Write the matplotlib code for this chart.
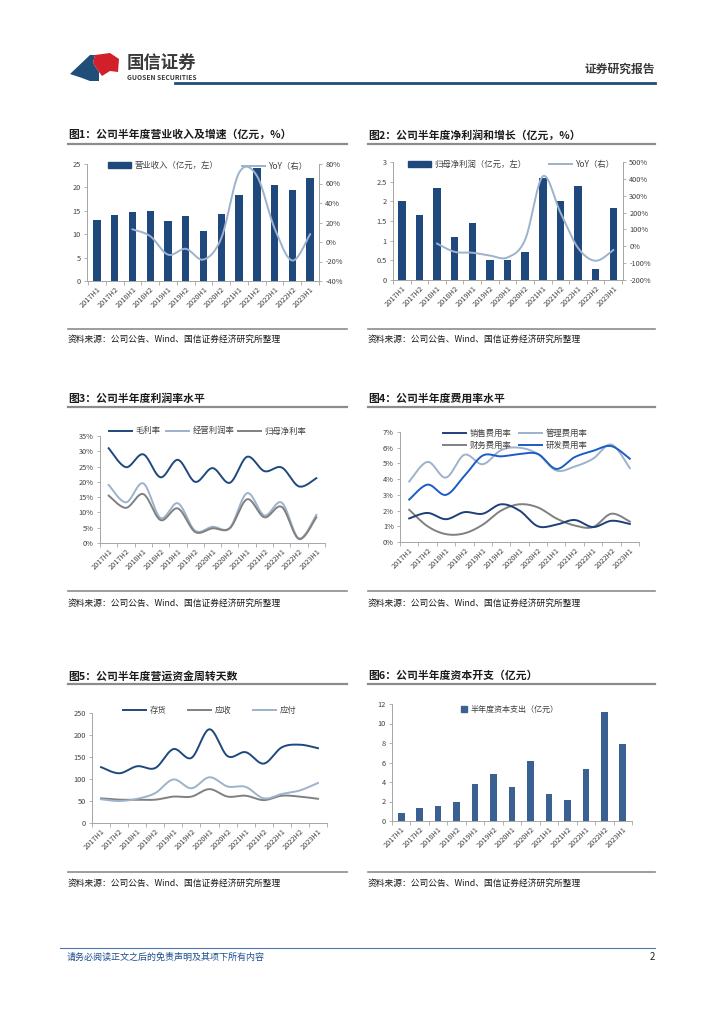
import numpy as np
import matplotlib
matplotlib.use("Agg")
import matplotlib.pyplot as plt
from matplotlib.patches import Patch, Polygon
from matplotlib.lines import Line2D

plt.rcParams['font.family'] = ['Noto Sans CJK SC', 'DejaVu Sans']

W, H = 724, 1024

periods = ["2017H1", "2017H2", "2018H1", "2018H2", "2019H1", "2019H2", "2020H1",
           "2020H2", "2021H1", "2021H2", "2022H1", "2022H2", "2023H1"]

# 图1
revenue = [13.1, 14.2, 14.8, 15.0, 12.9, 13.9, 10.6, 14.4, 18.4, 24.1, 20.5, 19.5, 22.0]
revenue_yoy = [13, 6, -13, -7, -18, 4, 71, 68, 14, -19, 8]   # from 2018H1
# 图2
profit = [2.0, 1.65, 2.33, 1.1, 1.45, 0.5, 0.5, 0.7, 2.6, 2.02, 2.4, 0.28, 1.83]
profit_yoy = [16, -33, -38, -55, -66, 40, 415, 200, -10, -86, -22]   # from 2018H1
# 图3
gross_margin = [31, 24.8, 29, 21.5, 27.2, 20, 24.5, 19.7, 28.2, 23.5, 24.7, 18.5, 21.2]
op_margin = [19, 13.3, 19.5, 8.2, 13, 4, 5.3, 5, 16.3, 9, 13.2, 1.5, 9.2]
net_margin = [15.5, 11.5, 16, 7.5, 11.3, 3.6, 4.8, 4.8, 14.3, 8.4, 11.8, 1.3, 8.4]
# 图4
sales_rate = [1.5, 1.85, 1.45, 1.9, 1.8, 2.4, 2.0, 1.0, 1.1, 1.4, 0.95, 1.35, 1.15]
admin_rate = [3.85, 5.1, 4.1, 5.55, 4.95, 5.85, 6.0, 5.6, 4.55, 4.8, 5.3, 6.2, 4.7]
fin_rate = [2.05, 1.0, 0.5, 0.55, 1.1, 2.0, 2.4, 2.2, 1.5, 1.05, 0.95, 1.8, 1.3]
rd_rate = [2.7, 3.65, 3.0, 4.2, 5.5, 5.45, 5.6, 5.6, 4.65, 5.4, 5.8, 6.1, 5.3]
# 图5
inventory_days = [127, 113, 129, 125, 168, 148, 213, 152, 161, 135, 172, 178, 170]
receivable_days = [56, 53, 53, 53, 60, 60, 77, 60, 62, 52, 62, 60, 55]
payable_days = [54, 50, 55, 68, 99, 79, 104, 83, 82, 56, 66, 74, 91]
# 图6
capex = [0.8, 1.3, 1.55, 2.0, 3.75, 4.85, 3.45, 6.2, 2.8, 2.2, 5.3, 11.2, 7.9]

NAVY = '#1f497d'
STEEL = '#9db2cb'
GRAY = '#808080'
SPINE = '#a6a6a6'
TXT = '#404040'
TICK_FS = 5.3


def smooth(x, y, n=24):
    # Excel-style smoothed line (Bezier through the points)
    p = np.column_stack([np.asarray(x, float), np.asarray(y, float)])
    ext = np.vstack([p[0], p, p[-1]])
    out = []
    t = np.linspace(0, 1, n)[:, None]
    for i in range(len(p) - 1):
        p0, p1, p2, p3 = ext[i], ext[i + 1], ext[i + 2], ext[i + 3]
        c1 = p1 + (p2 - p0) / 6
        c2 = p2 - (p3 - p1) / 6
        seg = (1 - t) ** 3 * p1 + 3 * (1 - t) ** 2 * t * c1 + 3 * (1 - t) * t ** 2 * c2 + t ** 3 * p2
        out.append(seg if i == 0 else seg[1:])
    s = np.vstack(out)
    return s[:, 0], s[:, 1]


fig = plt.figure(figsize=(W / 100, H / 100), dpi=100)


def px_axes(l, t, r, b):
    return fig.add_axes([l / W, 1 - b / H, (r - l) / W, (b - t) / H])


def ftext(x, y, s, **kw):
    fig.text(x / W, 1 - y / H, s, **kw)


def hline(x0, x1, y, color, lw):
    fig.add_artist(Line2D([x0 / W, x1 / W], [1 - y / H, 1 - y / H], color=color, lw=lw))


def legend_at(handle, label, x, y, hl=2.7, fs=6, pad=0.5):
    fig.legend(handles=[handle], labels=[label], loc='center left',
               bbox_to_anchor=(x / W, 1 - y / H), frameon=False, fontsize=fs,
               handlelength=hl, handletextpad=pad, borderpad=0, borderaxespad=0,
               labelcolor=TXT)


def style(ax, xlim, right=False):
    ax.set_xlim(*xlim)
    ax.set_xticks(range(len(periods)))
    ax.set_xticklabels(periods, rotation=45, ha='right', rotation_mode='anchor',
                       fontsize=TICK_FS, color=TXT)
    ax.set_xticks(np.arange(-0.5, len(periods), 1.0), minor=True)
    ax.tick_params(axis='x', which='major', length=0, pad=3)
    ax.tick_params(axis='x', which='minor', length=3, color=SPINE, width=0.6)
    ax.tick_params(axis='y', length=2.5, color=SPINE, width=0.6, labelsize=TICK_FS,
                   labelcolor=TXT, pad=2)
    ax.spines['top'].set_visible(False)
    ax.spines['right'].set_visible(right)
    for s in ax.spines.values():
        s.set_color(SPINE)
        s.set_linewidth(0.7)
    ax.set_facecolor('none')


def style_right(axr):
    axr.tick_params(axis='y', length=2.5, color=SPINE, width=0.6, labelsize=TICK_FS,
                    labelcolor=TXT, pad=2)
    for s in axr.spines.values():
        s.set_color(SPINE)
        s.set_linewidth(0.7)
    axr.spines['top'].set_visible(False)


x = np.arange(len(periods))
x_yoy = x[2:]

# ---------------- header / footer ----------------
logo_blue = [(70, 74), (90, 55), (95, 55), (93, 63), (99, 72), (99, 81), (90, 81), (82, 78)]
logo_red = [(95, 55), (110, 53), (119, 59), (118, 72), (110, 71), (102, 76), (99, 72), (93, 63)]
for pts, c in [(logo_blue, '#1f4e79'), (logo_red, '#d2202a')]:
    fig.add_artist(Polygon([(px / W, 1 - py / H) for px, py in pts], closed=True,
                           facecolor=c, edgecolor='none'))
ftext(127, 63, "国信证券", fontsize=12.5, color='#3a3a3a', va='center', fontweight='bold')
ftext(127, 78, "GUOSEN SECURITIES", fontsize=4.8, color='#3a3a3a', va='center', fontweight='bold')
ftext(655, 69, "证券研究报告", fontsize=8.5, color='#3a3a3a', va='center', ha='right', fontweight='bold')
hline(175, 655, 83, '#1f4e79', 2.0)

hline(60, 655, 948, '#4a7ab0', 0.8)
ftext(67, 957, "请务必阅读正文之后的免责声明及其项下所有内容", fontsize=6.5, color='#1f4e8c',
      va='center', style='italic')
ftext(655, 957, "2", fontsize=7, color='#222222', va='center', ha='right')

# ---------------- titles and sources ----------------
titles = [
    (68, 347, 135, 144, "图1：公司半年度营业收入及增速（亿元，%）"),
    (368, 655, 135, 144, "图2：公司半年度净利润和增长（亿元，%）"),
    (68, 347, 399, 407, "图3：公司半年度利润率水平"),
    (368, 655, 399, 407, "图4：公司半年度费用率水平"),
    (68, 347, 676, 684, "图5：公司半年度营运资金周转天数"),
    (368, 655, 676, 684, "图6：公司半年度资本开支（亿元）"),
]
for x0, x1, ty, ly, s in titles:
    ftext(x0, ty, s, fontsize=7.8, color='#1a1a1a', va='center', fontweight='bold')
    hline(x0, x1, ly, '#8c8c8c', 1.6)

src = "资料来源：公司公告、Wind、国信证券经济研究所整理"
for x0, x1, ly, ty in [(68, 347, 329, 339), (368, 655, 329, 339),
                       (68, 347, 591, 603), (368, 655, 591, 603),
                       (68, 347, 872, 883), (368, 655, 872, 883)]:
    hline(x0, x1, ly, '#8c8c8c', 1.2)
    ftext(x0, ty, src, fontsize=6.3, color='#1a1a1a', va='center')

# ---------------- 图1 ----------------
ax1 = px_axes(87, 164, 319, 281)
ax1.bar(x, revenue, width=0.42, color=NAVY)
ax1.set_ylim(0, 25)
ax1.set_yticks(range(0, 26, 5))
style(ax1, (-0.56, 12.42), right=True)
ax1r = ax1.twinx()
sx, sy = smooth(x_yoy, revenue_yoy)
ax1r.plot(sx, sy, color=STEEL, lw=1.4)
ax1r.set_ylim(-40, 80)
ax1r.set_yticks(range(-40, 81, 20))
ax1r.set_yticklabels([f"{v}%" for v in range(-40, 81, 20)])
style_right(ax1r)
legend_at(Patch(color=NAVY), "营业收入（亿元，左）", 108, 165)
legend_at(Line2D([], [], color=STEEL, lw=1.4), "YoY（右）", 242, 166)

# ---------------- 图2 ----------------
ax2 = px_axes(393, 162, 623, 280)
ax2.bar(x, profit, width=0.42, color=NAVY)
ax2.set_ylim(0, 3)
ax2.set_yticks([0, 0.5, 1, 1.5, 2, 2.5, 3])
ax2.set_yticklabels(["0", "0.5", "1", "1.5", "2", "2.5", "3"])
style(ax2, (-0.5, 12.55), right=True)
ax2r = ax2.twinx()
sx, sy = smooth(x_yoy, profit_yoy)
ax2r.plot(sx, sy, color=STEEL, lw=1.4)
ax2r.set_ylim(-200, 500)
ax2r.set_yticks(range(-200, 501, 100))
ax2r.set_yticklabels([f"{v}%" for v in range(-200, 501, 100)])
style_right(ax2r)
legend_at(Patch(color=NAVY), "归母净利润（亿元，左）", 408, 164)
legend_at(Line2D([], [], color=STEEL, lw=1.4), "YoY（右）", 549, 164)

# ---------------- 图3 ----------------
ax3 = px_axes(100, 436, 325, 543)
for vals, c in [(gross_margin, NAVY), (op_margin, STEEL), (net_margin, GRAY)]:
    sx, sy = smooth(x, vals)
    ax3.plot(sx, sy, color=c, lw=1.4)
ax3.set_ylim(0, 35)
ax3.set_yticks(range(0, 36, 5))
ax3.set_yticklabels([f"{v}%" for v in range(0, 36, 5)])
style(ax3, (-0.5, 12.05))
legend_at(Line2D([], [], color=NAVY, lw=1.4), "毛利率", 109, 431)
legend_at(Line2D([], [], color=STEEL, lw=1.4), "经营利润率", 166, 431)
legend_at(Line2D([], [], color=GRAY, lw=1.4), "归母净利率", 238, 431)

# ---------------- 图4 ----------------
ax4 = px_axes(400, 432, 639, 542)
for vals, c in [(admin_rate, STEEL), (fin_rate, GRAY), (sales_rate, '#1f3f7a'), (rd_rate, '#1a5cc8')]:
    sx, sy = smooth(x, vals)
    ax4.plot(sx, sy, color=c, lw=1.4)
ax4.set_ylim(0, 7)
ax4.set_yticks(range(0, 8))
ax4.set_yticklabels([f"{v}%" for v in range(0, 8)])
style(ax4, (-0.5, 12.5))
legend_at(Line2D([], [], color='#1f3f7a', lw=1.4), "销售费用率", 443, 433)
legend_at(Line2D([], [], color=STEEL, lw=1.4), "管理费用率", 519, 433)
legend_at(Line2D([], [], color=GRAY, lw=1.4), "财务费用率", 443, 445)
legend_at(Line2D([], [], color='#1a5cc8', lw=1.4), "研发费用率", 519, 445)

# ---------------- 图5 ----------------
ax5 = px_axes(92, 713, 327, 823)
for vals, c in [(receivable_days, GRAY), (payable_days, STEEL), (inventory_days, NAVY)]:
    sx, sy = smooth(x, vals)
    ax5.plot(sx, sy, color=c, lw=1.4)
ax5.set_ylim(0, 250)
ax5.set_yticks(range(0, 251, 50))
style(ax5, (-0.5, 12.05))
legend_at(Line2D([], [], color=NAVY, lw=1.4), "存货", 123, 710)
legend_at(Line2D([], [], color=GRAY, lw=1.4), "应收", 188, 710)
legend_at(Line2D([], [], color=STEEL, lw=1.4), "应付", 253, 710)

# ---------------- 图6 ----------------
ax6 = px_axes(392, 704, 632, 821)
ax6.bar(x, capex, width=0.36, color='#3a6192')
ax6.set_ylim(0, 12)
ax6.set_yticks(range(0, 13, 2))
style(ax6, (-0.5, 12.45))
legend_at(Patch(color='#3a6192'), "半年度资本支出（亿元）", 461, 709, hl=0.8, fs=5.8, pad=0.4)

fig.savefig("out.png", dpi=100)
